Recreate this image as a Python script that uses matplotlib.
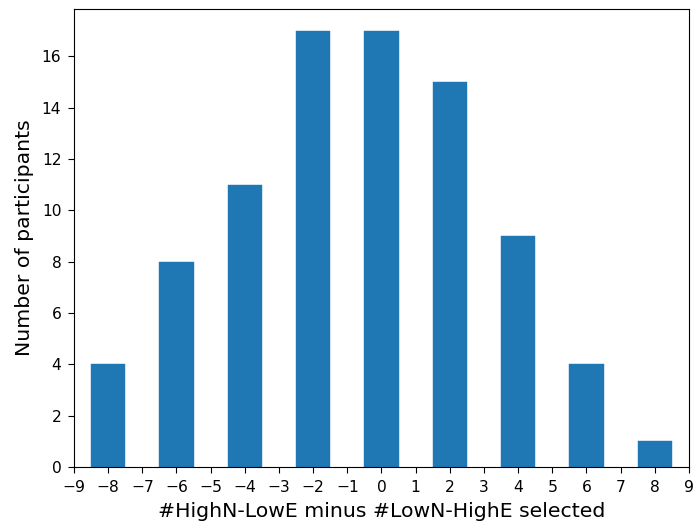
import matplotlib
matplotlib.use("Agg")
import matplotlib.pyplot as plt

# Difference in selection counts and how many participants had each value
differences = [-8, -6, -4, -2, 0, 2, 4, 6, 8]
participants = [4, 8, 11, 17, 17, 15, 9, 4, 1]
x_ticks = list(range(-9, 10))
y_ticks = [0, 2, 4, 6, 8, 10, 12, 14, 16]

fig = plt.figure(figsize=(6.94, 5.24), dpi=100)
ax = fig.add_axes([0.1066, 0.1088, 0.8862, 0.874])

ax.bar(differences, participants, width=1.0, color="#1f77b4", edgecolor="#1f77b4", linewidth=0.3)

ax.set_xlim(-9, 9)
ax.set_ylim(0, 17.85)
ax.set_xticks(x_ticks)
ax.set_yticks(y_ticks)
ax.tick_params(labelsize=11.2, length=4.3, pad=4.8)
ax.set_xlabel("#HighN-LowE minus #LowN-HighE selected", fontsize=14.7, labelpad=5.5)
ax.set_ylabel("Number of participants", fontsize=14.7, labelpad=5.5)

fig.savefig("out.png", dpi=100)
